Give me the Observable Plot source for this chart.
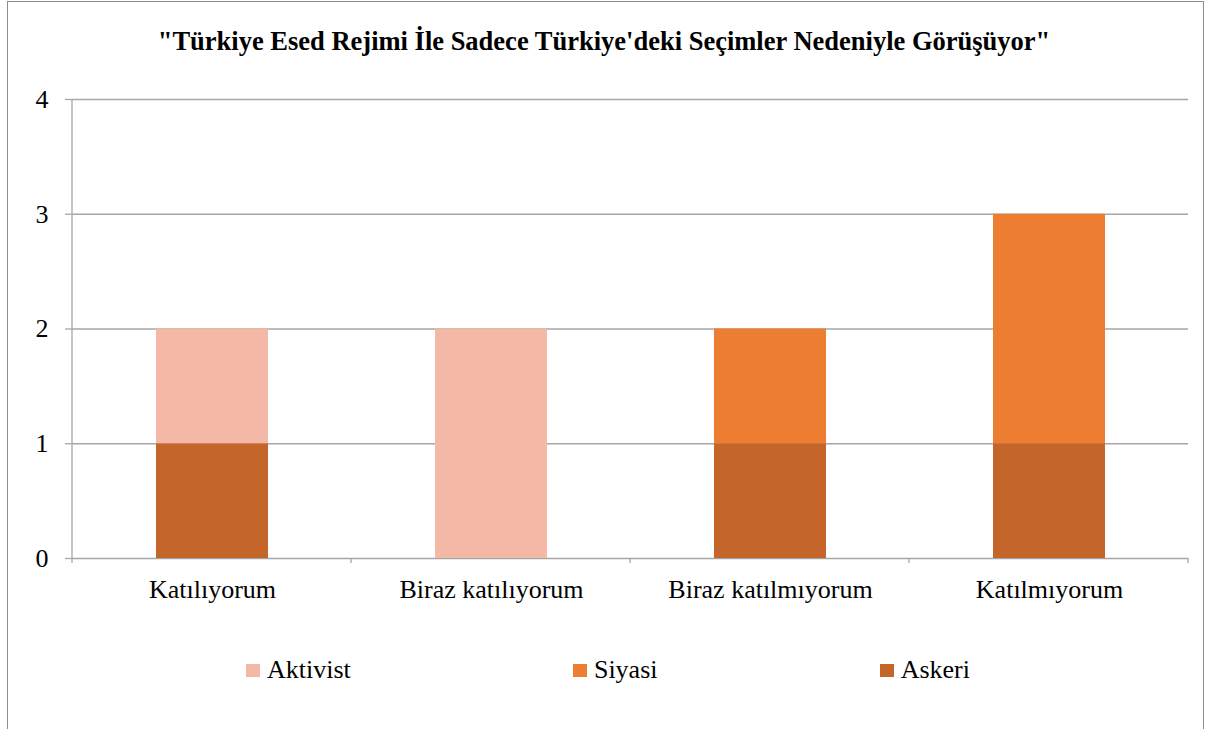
<!DOCTYPE html>
<html>
<head>
<meta charset="utf-8">
<script src="https://cdn.jsdelivr.net/npm/d3@7"></script>
<script src="https://cdn.jsdelivr.net/npm/@observablehq/plot@0.6"></script>
<style>
  html, body { margin: 0; padding: 0; background: #fff; }
  #wrap { position: relative; width: 1208px; height: 729px; overflow: hidden; font-family: "Liberation Serif", "Times New Roman", serif; }
  #frame { position: absolute; left: 7px; top: 1px; width: 1197px; height: 760px; border: 1px solid #8c8c8c; box-sizing: border-box; }
  #title { position: absolute; left: 0; width: 1208px; top: 26px; line-height: 30px; text-align: center; font-weight: bold; font-size: 26.5px; color: #000; white-space: nowrap; }
  #chart { position: absolute; left: 0; top: 0; }
  #legend { position: absolute; left: 246px; width: 724px; top: 655px; line-height: 30px; display: flex; justify-content: space-between; font-size: 26px; color: #000; }
  .item { display: flex; align-items: center; }
  .sw { width: 14px; height: 13px; margin-right: 7px; }
</style>
</head>
<body>
<div id="wrap">
  <div id="frame"></div>
  <div id="chart"></div>
  <div id="title"></div>
  <div id="legend"></div>
</div>
<script>
const titleText = "\"Türkiye Esed Rejimi İle Sadece Türkiye'deki Seçimler Nedeniyle Görüşüyor\"";
const categories = ["Katılıyorum", "Biraz katılıyorum", "Biraz katılmıyorum", "Katılmıyorum"];
const series = ["Aktivist", "Siyasi", "Askeri"];
const colors = ["#F4B9A6", "#ED7D31", "#C46529"];
const aktivist = [1, 2, 0, 0];
const siyasi = [0, 0, 1, 2];
const askeri = [1, 0, 1, 1];
const yTicks = [0, 1, 2, 3, 4];

// stack order: Askeri at bottom, then Siyasi, then Aktivist
const valuesBySeries = {Aktivist: aktivist, Siyasi: siyasi, Askeri: askeri};
const stackOrder = ["Askeri", "Siyasi", "Aktivist"];
const data = [];
for (const s of stackOrder) {
  categories.forEach((c, i) => data.push({category: c, series: s, value: valuesBySeries[s][i]}));
}

document.getElementById("title").textContent = titleText;

const W = 1208, H = 620, ML = 72, MR = 20, MT = 99, MB = 62;
const gridColor = "#a6a6a6";

const frameMarks = (index, scales, values, dimensions) => {
  const g = d3.create("svg:g");
  const y0 = scales.y(0);
  const y4 = scales.y(4);
  const left = dimensions.marginLeft;
  const right = dimensions.width - dimensions.marginRight;
  g.append("line").attr("x1", left).attr("x2", left).attr("y1", y4).attr("y2", y0 + 5)
    .attr("stroke", gridColor).attr("stroke-width", 1.3);
  const n = categories.length;
  for (let i = 1; i <= n; i++) {
    const x = left + i * (right - left) / n;
    g.append("line").attr("x1", x).attr("x2", x).attr("y1", y0).attr("y2", y0 + 5)
      .attr("stroke", gridColor).attr("stroke-width", 1.3);
  }
  return g.node();
};

const chart = Plot.plot({
  width: W, height: H,
  marginLeft: ML, marginRight: MR, marginTop: MT, marginBottom: MB,
  style: {fontFamily: "'Liberation Serif', 'Times New Roman', serif", background: "transparent", color: "#000"},
  x: {domain: categories, paddingInner: 0.6, paddingOuter: 0.3, label: null},
  y: {domain: [0, 4], label: null},
  color: {domain: series, range: colors},
  marks: [
    Plot.ruleY(yTicks, {y: d => d, stroke: gridColor, strokeWidth: 1.3}),
    Plot.barY(data, {x: "category", y: "value", fill: "series", order: null}),
    frameMarks,
    Plot.axisY(yTicks, {tickSize: 7, tickPadding: 17, fontSize: 26, tickFormat: d3.format("d"), stroke: gridColor, strokeWidth: 1.3, strokeOpacity: 1}),
    Plot.axisX({tickSize: 0, tickPadding: 21, fontSize: 26})
  ]
});
document.getElementById("chart").appendChild(chart);

const legend = document.getElementById("legend");
series.forEach((s, i) => {
  const it = document.createElement("div");
  it.className = "item";
  const sw = document.createElement("span");
  sw.className = "sw";
  sw.style.background = colors[i];
  const t = document.createElement("span");
  t.textContent = s;
  it.appendChild(sw); it.appendChild(t);
  legend.appendChild(it);
});
</script>
</body>
</html>
